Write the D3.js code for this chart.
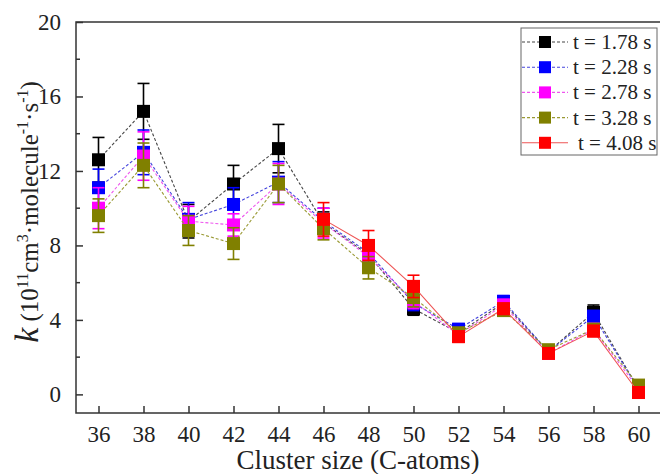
<!DOCTYPE html>
<html>
<head>
<meta charset="utf-8">
<script src="https://cdn.jsdelivr.net/npm/d3@7"></script>
<style>
  body { margin: 0; background: #fff; }
</style>
</head>
<body>
<div id="chart"></div>
<script>
const sizes = [36, 38, 40, 42, 44, 46, 48, 50, 52, 54, 56, 58, 60];
const labels = ["t = 1.78 s", "t = 2.28 s", "t = 2.78 s", "t = 3.28 s", "t = 4.08 s"];

const k178 = [12.6, 15.2, 9.3, 11.3, 13.2, 9.2, 7.5, 4.6, 3.3, 4.9, 2.3, 4.4, 0.3];
const e178 = [1.2, 1.5, 0.9, 1.0, 1.3, 0.6, 0.6, 0.35, 0.3, 0.3, 0.2, 0.4, 0.2];
const k228 = [11.1, 13.0, 9.4, 10.2, 11.4, 9.3, 7.6, 4.9, 3.5, 5.0, 2.3, 4.2, 0.3];
const e228 = [1.0, 1.2, 0.9, 0.9, 1.1, 0.7, 0.6, 0.4, 0.3, 0.3, 0.2, 0.3, 0.2];
const k278 = [10.0, 12.8, 9.3, 9.1, 11.3, 9.2, 7.4, 5.0, 3.2, 4.8, 2.2, 3.5, 0.3];
const e278 = [1.1, 1.3, 0.8, 0.6, 1.1, 0.8, 0.6, 0.4, 0.3, 0.3, 0.2, 0.3, 0.2];
const k328 = [9.6, 12.3, 8.8, 8.1, 11.3, 8.9, 6.8, 5.2, 3.3, 4.5, 2.4, 3.5, 0.5];
const e328 = [0.9, 1.2, 0.8, 0.85, 1.0, 0.6, 0.6, 0.5, 0.3, 0.3, 0.2, 0.3, 0.2];
const k408 = [null, null, null, null, null, 9.4, 8.0, 5.8, 3.1, 4.6, 2.2, 3.4, 0.1];
const e408 = [null, null, null, null, null, 0.9, 0.8, 0.6, 0.3, 0.3, 0.2, 0.3, 0.3];

const yTicks = [0, 4, 8, 12, 16, 20];
const yMinor = [2, 6, 10, 14, 18];

const series = [
  { name: labels[0], k: k178, err: e178, color: "#000000", line: "#444444", dash: "3,2" },
  { name: labels[1], k: k228, err: e228, color: "#0000ff", line: "#4444dd", dash: "3,2" },
  { name: labels[2], k: k278, err: e278, color: "#ff00ff", line: "#ee55ee", dash: "3,2" },
  { name: labels[3], k: k328, err: e328, color: "#808000", line: "#999933", dash: "3,2" },
  { name: labels[4], k: k408, err: e408, color: "#ff0000", line: "#ee5555", dash: null }
];

const FONT = '"Liberation Serif"';
const width = 660, height = 474;
const margin = { top: 22, right: -1, bottom: 61, left: 76 };

const svg = d3.select("#chart").append("svg")
  .attr("width", width)
  .attr("height", height)
  .style("display", "block");

const x = d3.scaleLinear()
  .domain([35, 61])
  .range([margin.left, width - margin.right]);

const y = d3.scaleLinear()
  .domain([-1, 20])
  .range([height - margin.bottom, margin.top]);

// frame
svg.append("rect")
  .attr("x", margin.left)
  .attr("y", margin.top)
  .attr("width", width - margin.right - margin.left)
  .attr("height", height - margin.bottom - margin.top)
  .attr("fill", "none")
  .attr("stroke", "#333")
  .attr("stroke-width", 1.5);

// axes (ticks inside)
const xAxis = svg.append("g")
  .attr("transform", `translate(0,${height - margin.bottom})`)
  .call(d3.axisBottom(x).tickValues(sizes).tickSize(-7).tickPadding(13).tickFormat(d3.format("d")));
xAxis.select(".domain").remove();
xAxis.selectAll("line").attr("stroke", "#333").attr("stroke-width", 1.5);
xAxis.selectAll("text").attr("fill", "#222")
  .style("font-family", FONT).style("font-size", "23px");

const yAxis = svg.append("g")
  .attr("transform", `translate(${margin.left},0)`)
  .call(d3.axisLeft(y).tickValues(yTicks).tickSize(-7).tickPadding(15));
yAxis.select(".domain").remove();
yAxis.selectAll("line").attr("stroke", "#333").attr("stroke-width", 1.5);
yAxis.selectAll("text").attr("fill", "#222")
  .style("font-family", FONT).style("font-size", "23px");

svg.append("g")
  .selectAll("line")
  .data(yMinor)
  .enter()
  .append("line")
  .attr("x1", margin.left)
  .attr("x2", margin.left + 4)
  .attr("y1", d => y(d))
  .attr("y2", d => y(d))
  .attr("stroke", "#333")
  .attr("stroke-width", 1.5);

// series: lines, error bars, squares
const line = d3.line()
  .defined(d => d.v != null)
  .x(d => x(d.s))
  .y(d => y(d.v));

const sq = 13, cap = 6;

series.forEach(s => {
  const pts = sizes.map((sz, i) => ({ s: sz, v: s.k[i], e: s.err[i] })).filter(d => d.v != null);
  const g = svg.append("g");

  g.append("path")
    .datum(pts)
    .attr("d", line)
    .attr("fill", "none")
    .attr("stroke", s.line)
    .attr("stroke-width", 1.1)
    .attr("stroke-dasharray", s.dash);

  const eb = g.selectAll(".eb").data(pts).enter().append("g");
  eb.append("line")
    .attr("x1", d => x(d.s)).attr("x2", d => x(d.s))
    .attr("y1", d => y(d.v - d.e)).attr("y2", d => y(d.v + d.e))
    .attr("stroke", s.color).attr("stroke-width", 1.6);
  eb.append("line")
    .attr("x1", d => x(d.s) - cap).attr("x2", d => x(d.s) + cap)
    .attr("y1", d => y(d.v + d.e)).attr("y2", d => y(d.v + d.e))
    .attr("stroke", s.color).attr("stroke-width", 1.6);
  eb.append("line")
    .attr("x1", d => x(d.s) - cap).attr("x2", d => x(d.s) + cap)
    .attr("y1", d => y(d.v - d.e)).attr("y2", d => y(d.v - d.e))
    .attr("stroke", s.color).attr("stroke-width", 1.6);

  g.selectAll("rect").data(pts).enter().append("rect")
    .attr("x", d => x(d.s) - sq / 2)
    .attr("y", d => y(d.v) - sq / 2)
    .attr("width", sq)
    .attr("height", sq)
    .attr("fill", s.color);
});

// legend
const legend = svg.append("g");
legend.append("rect")
  .attr("x", 521).attr("y", 28)
  .attr("width", 136).attr("height", 127)
  .attr("fill", "#fff")
  .attr("stroke", "#666")
  .attr("stroke-width", 1);

series.forEach((s, i) => {
  const ly = 42 + i * 25.2;
  legend.append("line")
    .attr("x1", 522).attr("x2", 568)
    .attr("y1", ly).attr("y2", ly)
    .attr("stroke", s.line)
    .attr("stroke-width", 1.1)
    .attr("stroke-dasharray", s.dash);
  legend.append("rect")
    .attr("x", 539).attr("y", ly - 6)
    .attr("width", 12).attr("height", 12)
    .attr("fill", s.color);
  legend.append("text")
    .attr("x", i === 4 ? 578 : 573)
    .attr("y", ly + 7)
    .attr("fill", "#222")
    .style("font-family", FONT)
    .style("font-size", "21px")
    .text(s.name);
});

// axis titles
svg.append("text")
  .attr("x", 358)
  .attr("y", 469)
  .attr("text-anchor", "middle")
  .attr("fill", "#222")
  .style("font-family", FONT)
  .style("font-size", "27px")
  .text("Cluster size (C-atoms)");

const yl = svg.append("text")
  .attr("transform", "translate(38,212) rotate(-90)")
  .attr("text-anchor", "middle")
  .attr("fill", "#222")
  .style("font-family", FONT)
  .style("font-size", "25px");
yl.append("tspan").style("font-style", "italic").style("font-size", "34px").text("k");
yl.append("tspan").text(" (10");
yl.append("tspan").style("font-size", "16px").attr("dy", -10).text("11");
yl.append("tspan").attr("dy", 10).text("cm");
yl.append("tspan").style("font-size", "16px").attr("dy", -10).text("3");
yl.append("tspan").attr("dy", 10).text("·molecule");
yl.append("tspan").style("font-size", "16px").attr("dy", -10).text("-1");
yl.append("tspan").attr("dy", 10).text("·s");
yl.append("tspan").style("font-size", "16px").attr("dy", -10).text("-1");
yl.append("tspan").attr("dy", 10).text(")");
</script>
</body>
</html>
